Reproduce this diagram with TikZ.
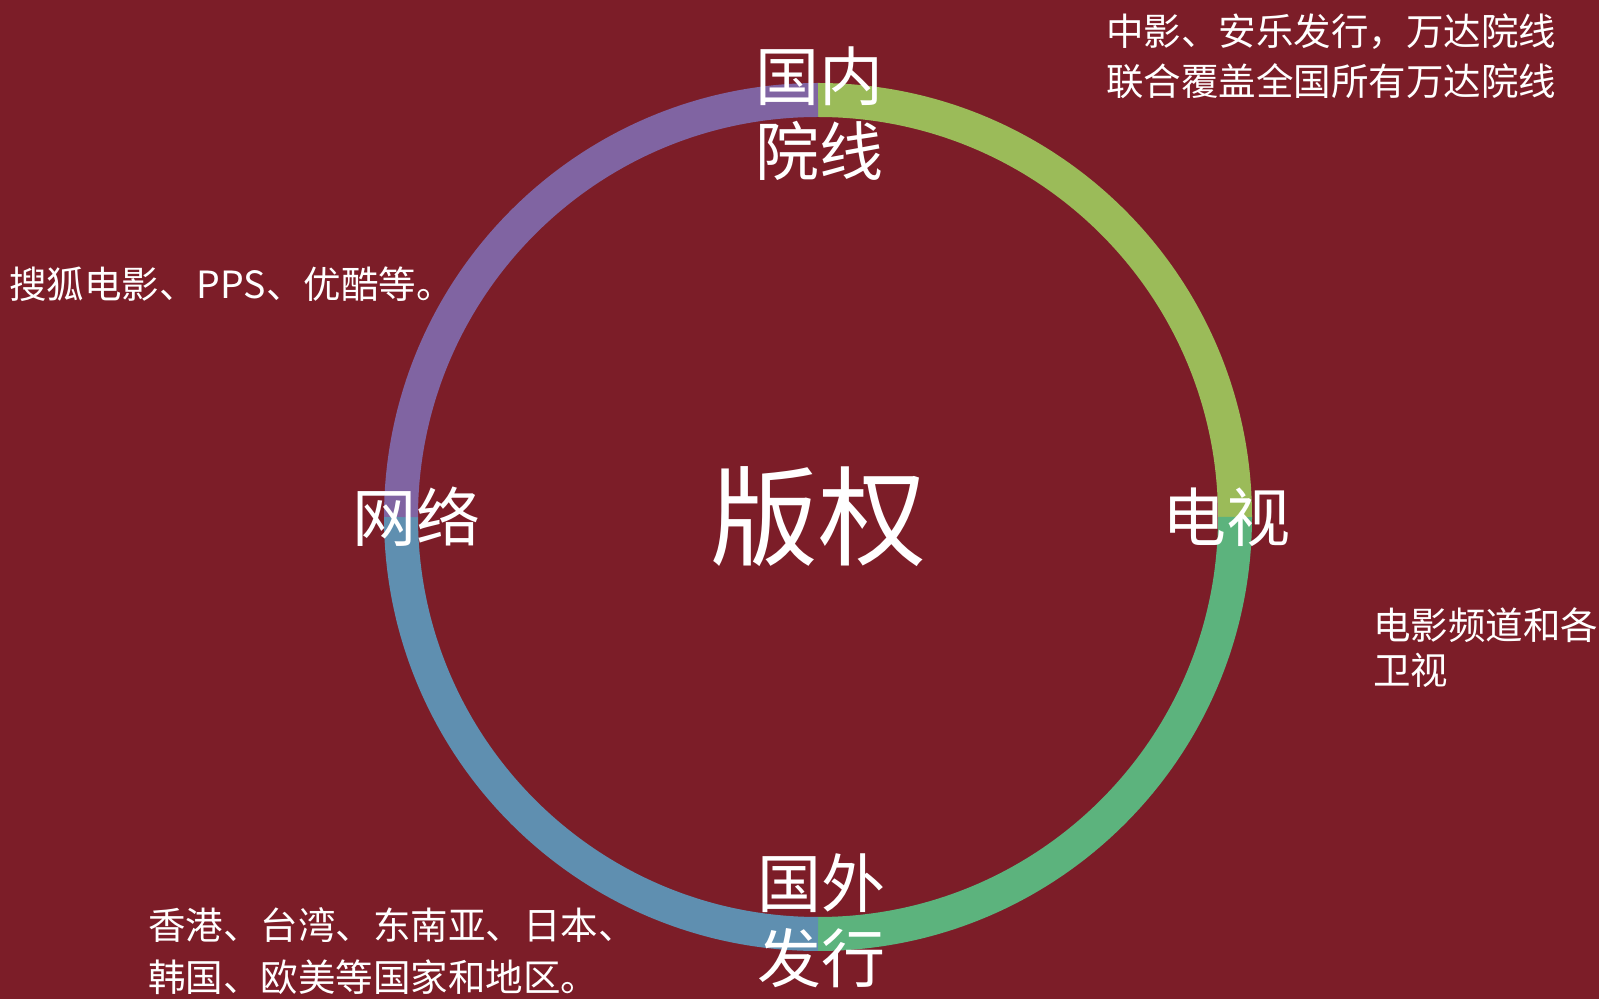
\documentclass[tikz,border=0pt]{standalone}
\usepackage{fontspec}
\setmainfont{Noto Sans CJK SC}
\usetikzlibrary{positioning}

\definecolor{bgred}{RGB}{124,29,40}
\definecolor{ringgold}{RGB}{155,187,89}
\definecolor{ringgreen}{RGB}{92,179,125}
\definecolor{ringblue}{RGB}{95,143,176}
\definecolor{ringpurple}{RGB}{128,100,162}

\begin{document}
\begin{tikzpicture}[x=1pt,y=1pt,
	ring/.style={line width=34pt},
	hub/.style={text=white,inner sep=0pt,font=\fontsize{108}{108}\selectfont},
	outlet/.style={text=white,inner sep=0pt,align=center,font=\fontsize{64}{75}\selectfont},
	note/.style={text=white,inner sep=0pt,align=left,anchor=west}]
	\fill[bgred] (0,0) rectangle (1599,999);
	\useasboundingbox (0,0) rectangle (1599,999);
	\coordinate (c) at (818,482);
	
	% the ring, one quarter per outlet
	\draw[ring,ringgold] ([shift={(90:417)}]c) arc[start angle=90,end angle=0,radius=417];
	\draw[ring,ringgreen] ([shift={(0:417)}]c) arc[start angle=0,end angle=-90,radius=417];
	\draw[ring,ringblue] ([shift={(-90:417)}]c) arc[start angle=-90,end angle=-180,radius=417];
	\draw[ring,ringpurple] ([shift={(180:417)}]c) arc[start angle=180,end angle=90,radius=417];
	
	\node[hub] (rights) at (c) {版权};
	\node[outlet] (cinema) at (819,885) {国内\\院线};
	\node[outlet] (tv) at (1226,482) {电视};
	\node[outlet] (abroad) at (821,78) {国外\\发行};
	\node[outlet] (web) at (416,482) {网络};
	
	\node[note,font=\fontsize{37.5}{50}\selectfont] (cinemanote) at (1106,943) {中影、安乐发行，万达院线\\联合覆盖全国所有万达院线};
	\node[note,font=\fontsize{37.5}{45}\selectfont] (tvnote) at (1373,351) {电影频道和各\\卫视};
	\node[note,font=\fontsize{37.5}{52}\selectfont] (abroadnote) at (148,48) {香港、台湾、东南亚、日本、\\韩国、欧美等国家和地区。};
	\node[note,font=\fontsize{37.5}{45}\selectfont] (webnote) at (9,715) {搜狐电影、PPS、优酷等。};
\end{tikzpicture}
\end{document}
